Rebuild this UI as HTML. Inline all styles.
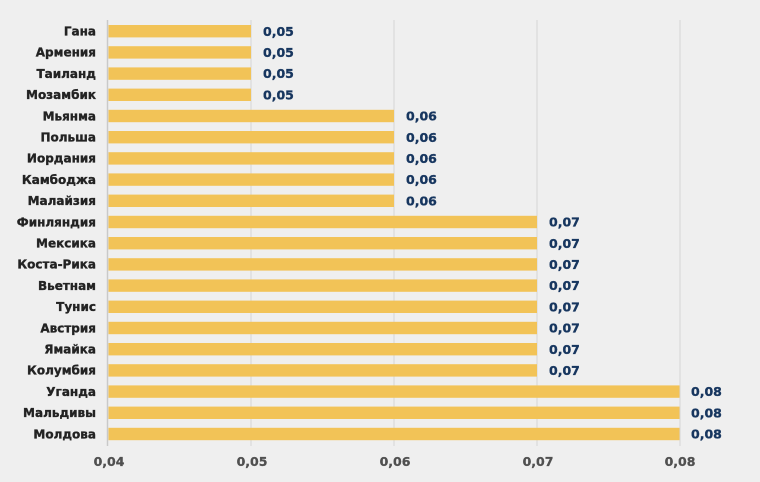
<!DOCTYPE html>
<html><head><meta charset="utf-8">
<style>
html,body{margin:0;padding:0;background:#efefef;}
svg{display:block;}
.lab{font-family:"DejaVu Sans","Liberation Sans",sans-serif;font-weight:bold;font-size:12px;fill:#232323;stroke:#232323;stroke-width:0.35;}
.val{font-family:"DejaVu Sans","Liberation Sans",sans-serif;font-weight:bold;font-size:12.5px;fill:#17365f;stroke:#17365f;stroke-width:0.35;}
.tick{font-family:"DejaVu Sans","Liberation Sans",sans-serif;font-weight:bold;font-size:12.5px;fill:#505050;stroke:#505050;stroke-width:0.3;}
</style></head>
<body>
<svg width="760" height="482" viewBox="0 0 760 482" xmlns="http://www.w3.org/2000/svg">
<rect x="0" y="0" width="760" height="482" fill="#efefef"/>
<g stroke="#d6d6d6" stroke-width="1">
<line x1="251" y1="20" x2="251" y2="446"/>
<line x1="394" y1="20" x2="394" y2="446"/>
<line x1="537" y1="20" x2="537" y2="446"/>
<line x1="680" y1="20" x2="680" y2="446"/>
</g>
<line x1="107.5" y1="20" x2="107.5" y2="446" stroke="#c9c9c9" stroke-width="1.5"/>
<g fill="#f2c357">
<rect x="108.5" y="25.0" width="142.5" height="12.4"/>
<rect x="108.5" y="46.2" width="142.5" height="12.4"/>
<rect x="108.5" y="67.4" width="142.5" height="12.4"/>
<rect x="108.5" y="88.6" width="142.5" height="12.4"/>
<rect x="108.5" y="109.8" width="285.5" height="12.4"/>
<rect x="108.5" y="131.0" width="285.5" height="12.4"/>
<rect x="108.5" y="152.2" width="285.5" height="12.4"/>
<rect x="108.5" y="173.4" width="285.5" height="12.4"/>
<rect x="108.5" y="194.6" width="285.5" height="12.4"/>
<rect x="108.5" y="215.8" width="428.5" height="12.4"/>
<rect x="108.5" y="237.0" width="428.5" height="12.4"/>
<rect x="108.5" y="258.2" width="428.5" height="12.4"/>
<rect x="108.5" y="279.4" width="428.5" height="12.4"/>
<rect x="108.5" y="300.6" width="428.5" height="12.4"/>
<rect x="108.5" y="321.8" width="428.5" height="12.4"/>
<rect x="108.5" y="343.0" width="428.5" height="12.4"/>
<rect x="108.5" y="364.2" width="428.5" height="12.4"/>
<rect x="108.5" y="385.4" width="571" height="12.4"/>
<rect x="108.5" y="406.6" width="571" height="12.4"/>
<rect x="108.5" y="427.8" width="571" height="12.4"/>
</g>
<g class="lab" text-anchor="end">
<text x="96" y="35.5">Гана</text>
<text x="96" y="56.7">Армения</text>
<text x="96" y="77.9">Таиланд</text>
<text x="96" y="99.1">Мозамбик</text>
<text x="96" y="120.3">Мьянма</text>
<text x="96" y="141.5">Польша</text>
<text x="96" y="162.7">Иордания</text>
<text x="96" y="183.9">Камбоджа</text>
<text x="96" y="205.1">Малайзия</text>
<text x="96" y="226.3">Финляндия</text>
<text x="96" y="247.5">Мексика</text>
<text x="96" y="268.7">Коста-Рика</text>
<text x="96" y="289.9">Вьетнам</text>
<text x="96" y="311.1">Тунис</text>
<text x="96" y="332.3">Австрия</text>
<text x="96" y="353.5">Ямайка</text>
<text x="96" y="374.7">Колумбия</text>
<text x="96" y="395.9">Уганда</text>
<text x="96" y="417.1">Мальдивы</text>
<text x="96" y="438.3">Молдова</text>
</g>
<g class="val">
<text x="263" y="35.8">0,05</text>
<text x="263" y="57.0">0,05</text>
<text x="263" y="78.2">0,05</text>
<text x="263" y="99.4">0,05</text>
<text x="406" y="120.6">0,06</text>
<text x="406" y="141.8">0,06</text>
<text x="406" y="163.0">0,06</text>
<text x="406" y="184.2">0,06</text>
<text x="406" y="205.4">0,06</text>
<text x="549" y="226.6">0,07</text>
<text x="549" y="247.8">0,07</text>
<text x="549" y="269.0">0,07</text>
<text x="549" y="290.2">0,07</text>
<text x="549" y="311.4">0,07</text>
<text x="549" y="332.6">0,07</text>
<text x="549" y="353.8">0,07</text>
<text x="549" y="375.0">0,07</text>
<text x="691" y="396.2">0,08</text>
<text x="691" y="417.4">0,08</text>
<text x="691" y="438.6">0,08</text>
</g>
<g class="tick" text-anchor="middle">
<text x="109" y="466">0,04</text>
<text x="252" y="466">0,05</text>
<text x="395" y="466">0,06</text>
<text x="538" y="466">0,07</text>
<text x="680" y="466">0,08</text>
</g>
</svg>
</body></html>
